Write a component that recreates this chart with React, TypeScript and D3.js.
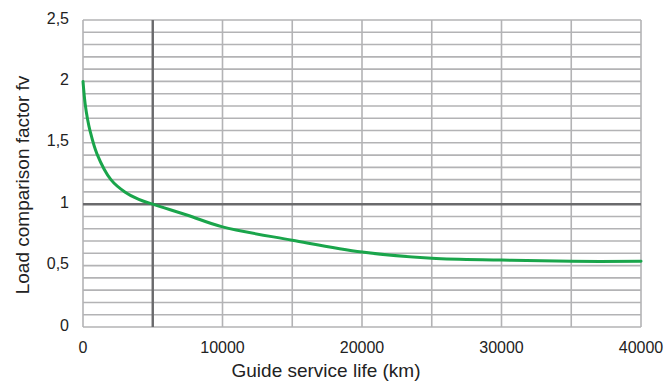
import React from "react";
import * as d3 from "d3";

const lifeKm = [0, 150, 330, 500, 1000, 2000, 3000, 4000, 5000, 7500, 10000, 15000, 20000, 25000, 30000, 35000, 40000];
const factor = [2.0, 1.82, 1.69, 1.6, 1.41, 1.2, 1.1, 1.04, 1.0, 0.91, 0.815, 0.707, 0.61, 0.56, 0.545, 0.535, 0.535];
const xTicks = [0, 10000, 20000, 30000, 40000];
const yTicks = [0, 0.5, 1, 1.5, 2, 2.5];
const xGrid = [0, 5000, 10000, 15000, 20000, 25000, 30000, 35000, 40000];
const yGrid = d3.range(0, 26).map((i) => i / 10);
const xTitle = "Guide service life (km)";
const yTitle = "Load comparison factor fv";

const W = 665;
const H = 383;
const m = { left: 83, right: 641, top: 20, bottom: 327 };
const font = "'Liberation Sans', Arial, sans-serif";

export default function App() {
  const x = d3.scaleLinear().domain([0, 40000]).range([m.left, m.right]);
  const y = d3.scaleLinear().domain([0, 2.5]).range([m.bottom, m.top]);
  const line = d3
    .line<number>()
    .x((_, i) => x(lifeKm[i]))
    .y((d) => y(d))
    .curve(d3.curveCatmullRom.alpha(0.5));
  const fmt = (v: number) => String(v).replace(".", ",");
  return (
    <svg width={W} height={H} style={{ position: "absolute", left: 0, top: 0, background: "#fff" }}>
      {yGrid.map((v) => (
        <line key={"y" + v} x1={m.left} x2={m.right} y1={y(v)} y2={y(v)} stroke="#b3b3b5" strokeWidth={1.6} />
      ))}
      {xGrid.map((v) => (
        <line key={"x" + v} x1={x(v)} x2={x(v)} y1={m.top} y2={m.bottom} stroke="#b3b3b5" strokeWidth={1.6} />
      ))}
      <line x1={m.left} x2={m.right} y1={y(1)} y2={y(1)} stroke="#6a6a6c" strokeWidth={2.4} />
      <line x1={x(5000)} x2={x(5000)} y1={m.top} y2={m.bottom} stroke="#6a6a6c" strokeWidth={2.4} />
      <path d={line(factor) || ""} fill="none" stroke="#1aa54b" strokeWidth={3} strokeLinecap="round" />
      {yTicks.map((v) => (
        <text key={"yt" + v} x={69} y={y(v) - 2} textAnchor="end" dominantBaseline="central" fontFamily={font} fontSize={16} fill="#222">
          {fmt(v)}
        </text>
      ))}
      {xTicks.map((v) => (
        <text key={"xt" + v} x={x(v)} y={353} textAnchor="middle" fontFamily={font} fontSize={16} fill="#222">
          {v}
        </text>
      ))}
      <text x={326} y={377} textAnchor="middle" fontFamily={font} fontSize={19} fill="#222">
        {xTitle}
      </text>
      <text transform={`translate(29,185) rotate(-90)`} textAnchor="middle" fontFamily={font} fontSize={19} fill="#222">
        {yTitle}
      </text>
    </svg>
  );
}
